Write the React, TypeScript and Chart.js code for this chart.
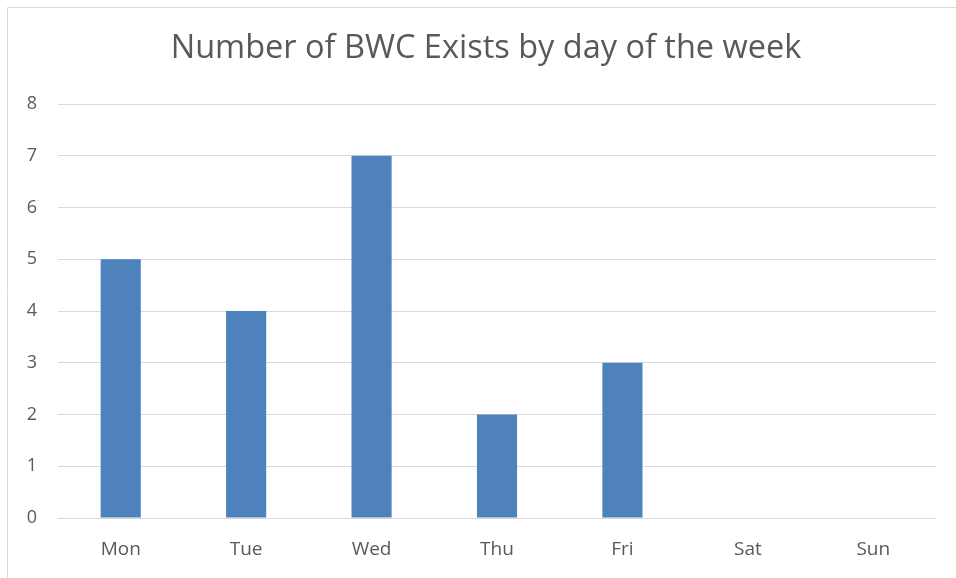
import React, { useEffect, useRef } from "react";
import { Chart, registerables } from "chart.js";

Chart.register(...registerables);

const categories = ["Mon", "Tue", "Wed", "Thu", "Fri", "Sat", "Sun"];
const exits = [5, 4, 7, 2, 3, 0, 0];
const titleText = "Number of BWC Exists by day of the week";

const FONT = "'Open Sans', 'Noto Sans', sans-serif";
const TEXT = "#595959";
const GRID = "#d9d9d9";

export default function App() {
  const ref = useRef<HTMLCanvasElement | null>(null);
  useEffect(() => {
    if (!ref.current) return;
    const framePlugin = {
      id: "frame",
      afterDraw(chart: any) {
        const ctx = chart.ctx;
        ctx.save();
        ctx.strokeStyle = GRID;
        ctx.lineWidth = 1;
        ctx.beginPath();
        ctx.moveTo(7.5, 578);
        ctx.lineTo(7.5, 7.5);
        ctx.lineTo(956, 7.5);
        ctx.stroke();
        ctx.fillStyle = TEXT;
        ctx.font = `32.5px ${FONT}`;
        ctx.textAlign = "center";
        ctx.textBaseline = "middle";
        ctx.fillText(titleText, 486, 49);
        ctx.restore();
      },
    };
    const chart = new Chart(ref.current, {
      type: "bar",
      data: {
        labels: categories,
        datasets: [
          {
            data: exits,
            backgroundColor: "#4f81bd",
            categoryPercentage: 1,
            barPercentage: 0.32,
          },
        ],
      },
      options: {
        responsive: false,
        animation: false,
        layout: { padding: { top: 104, right: 20, left: 0, bottom: 0 } },
        plugins: { legend: { display: false }, tooltip: { enabled: false }, title: { display: false } },
        scales: {
          x: {
            grid: { display: false, drawTicks: false },
            border: { display: false },
            ticks: { color: TEXT, font: { family: FONT, size: 19 }, padding: 20 },
            afterFit(scale: any) {
              scale.height = 60;
            },
          },
          y: {
            min: 0,
            max: 8,
            grid: { color: GRID, lineWidth: 1, drawTicks: false },
            border: { display: false },
            ticks: { stepSize: 1, color: TEXT, font: { family: FONT, size: 18 }, padding: 21 },
            afterFit(scale: any) {
              scale.width = 58;
            },
          },
        },
      },
      plugins: [framePlugin],
    });
    return () => chart.destroy();
  }, []);
  return (
    <div style={{ position: "absolute", left: 0, top: 0, width: 956, height: 578, background: "#fff" }}>
      <canvas ref={ref} width={956} height={578} style={{ display: "block" }} />
    </div>
  );
}
